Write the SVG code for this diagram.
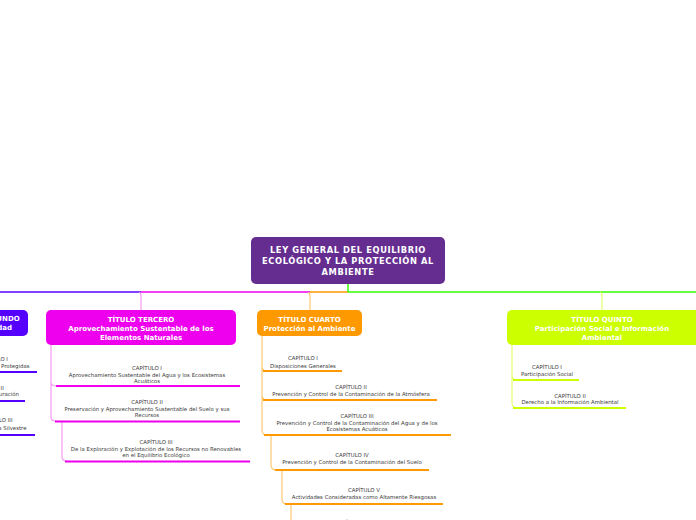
<svg xmlns="http://www.w3.org/2000/svg" width="696" height="520" viewBox="0 0 696 520">
<style>
.root{font-family:"DejaVu Sans",Verdana,sans-serif;font-weight:bold;font-size:8.3px;letter-spacing:0.6px;fill:#fff;text-anchor:middle}
.tt{font-family:"DejaVu Sans",Verdana,sans-serif;font-weight:bold;font-size:7px;fill:#fff;text-anchor:middle}
.ch{font-family:"DejaVu Sans",Verdana,sans-serif;font-size:5.4px;fill:#3a3a3a;text-anchor:middle}
.ul{stroke-width:2;fill:none}
.c{fill:none;stroke-width:1.2}
</style>
<rect width="696" height="520" fill="#fff"/>
<g id="connectors">
<line x1="0" y1="292" x2="141" y2="292" stroke="#5500ff" stroke-width="1.5"/>
<line x1="141" y1="292" x2="310" y2="292" stroke="#ee00ee" stroke-width="1.5"/>
<line x1="310" y1="292" x2="348" y2="292" stroke="#ff9900" stroke-width="1.5"/>
<line x1="348" y1="292" x2="696" y2="292" stroke="#33ff00" stroke-width="1.5"/>
<line x1="348" y1="284" x2="348" y2="292" stroke="#33ff00" stroke-width="1.5"/>
<path class="c" stroke="#f59af5" d="M139 292.5 Q141 292.5 141 296 L141 310"/>
<path class="c" stroke="#ffc870" d="M308 292.5 Q310 292.5 310 296 L310 310"/>
<path class="c" stroke="#e2ff70" d="M600 292.5 Q602 292.5 602 296 L602 310"/>
<path class="c" stroke="#f59af5" d="M51 345 L51 382 Q51 386 56 386 M51 382 L51 417 Q51 421 56 421"/>
<path class="c" stroke="#f59af5" d="M62 422 L62 457 Q62 461 67 461"/>
<path class="c" stroke="#ffc870" d="M262 336 L262 366 Q262 371 267 371 M262 366 L262 395 Q262 400 267 400 M262 395 L262 430 Q262 435 267 435"/>
<path class="c" stroke="#ffc870" d="M271 435 L271 465 Q271 470 276 470"/>
<path class="c" stroke="#ffc870" d="M282 470 L282 499 Q282 504 287 504"/>
<path class="c" stroke="#ffc870" d="M291 504 L291 520"/>
<path class="c" stroke="#e2ff70" d="M512 345 L512 375 Q512 380 517 380 M512 375 L512 403 Q512 408 517 408"/>
</g>
<g id="root">
<rect x="251" y="237" width="194" height="47" rx="5" fill="#662d91"/>
<text class="root" x="348" y="253">LEY GENERAL DEL EQUILIBRIO</text>
<text class="root" x="348" y="264">ECOLÓGICO Y LA PROTECCIÓN AL</text>
<text class="root" x="348" y="275">AMBIENTE</text>
</g>
<g id="titulo-segundo">
<rect x="-58" y="310" width="86" height="26" rx="5" fill="#5500ff"/>
<text class="tt" x="-15" y="321">TÍTULO SEGUNDO</text>
<text class="tt" x="-15" y="330">Biodiversidad</text>
</g>
<g id="ts-cap1">
<text class="ch" x="-7" y="361">CAPÍTULO I</text>
<text class="ch" x="-7" y="368">Áreas Naturales Protegidas</text>
<line class="ul" x1="-50" y1="372" x2="37" y2="372" stroke="#5500ff"/>
</g>
<g id="ts-cap2">
<text class="ch" x="-12" y="390">CAPÍTULO II</text>
<text class="ch" x="-12" y="396">Zonas de Restauración</text>
<line class="ul" x1="-50" y1="401" x2="25" y2="401" stroke="#5500ff"/>
</g>
<g id="ts-cap3">
<text class="ch" x="-4" y="422">CAPÍTULO III</text>
<text class="ch" x="-4" y="430">Flora y Fauna Silvestre</text>
<line class="ul" x1="-45" y1="435" x2="35" y2="435" stroke="#5500ff"/>
</g>
<g id="titulo-tercero">
<rect x="46" y="310" width="190" height="35" rx="5" fill="#ee00ee"/>
<text class="tt" x="141" y="321.5">TÍTULO TERCERO</text>
<text class="tt" x="141" y="330.5">Aprovechamiento Sustentable de los</text>
<text class="tt" x="141" y="339.5">Elementos Naturales</text>
</g>
<g id="tt-cap1">
<text class="ch" x="147" y="370">CAPÍTULO I</text>
<text class="ch" x="147" y="377">Aprovechamiento Sustentable del Agua y los Ecosistemas</text>
<text class="ch" x="147" y="383">Acuáticos</text>
<line class="ul" x1="56" y1="386" x2="240" y2="386" stroke="#ee00ee"/>
</g>
<g id="tt-cap2">
<text class="ch" x="147" y="404">CAPÍTULO II</text>
<text class="ch" x="147" y="411">Preservación y Aprovechamiento Sustentable del Suelo y sus</text>
<text class="ch" x="147" y="417">Recursos</text>
<line class="ul" x1="55" y1="421.5" x2="240" y2="421.5" stroke="#ee00ee"/>
</g>
<g id="tt-cap3">
<text class="ch" x="156" y="444">CAPÍTULO III</text>
<text class="ch" x="156" y="451">De la Exploración y Explotación de los Recursos no Renovables</text>
<text class="ch" x="156" y="457">en el Equilibrio Ecológico</text>
<line class="ul" x1="65" y1="461.5" x2="250" y2="461.5" stroke="#ee00ee"/>
</g>
<g id="titulo-cuarto">
<rect x="257" y="310" width="105" height="26" rx="5" fill="#ff9900"/>
<text class="tt" x="309.5" y="321.5">TÍTULO CUARTO</text>
<text class="tt" x="309.5" y="330.5">Protección al Ambiente</text>
</g>
<g id="tc-cap1">
<text class="ch" x="303" y="360">CAPÍTULO I</text>
<text class="ch" x="303" y="368">Disposiciones Generales</text>
<line class="ul" x1="263" y1="371" x2="342" y2="371" stroke="#ff9900"/>
</g>
<g id="tc-cap2">
<text class="ch" x="351" y="389">CAPÍTULO II</text>
<text class="ch" x="351" y="396">Prevención y Control de la Contaminación de la Atmósfera</text>
<line class="ul" x1="263" y1="400" x2="437" y2="400" stroke="#ff9900"/>
</g>
<g id="tc-cap3">
<text class="ch" x="357" y="418">CAPÍTULO III</text>
<text class="ch" x="357" y="425">Prevención y Control de la Contaminación del Agua y de los</text>
<text class="ch" x="357" y="431">Ecosistemas Acuáticos</text>
<line class="ul" x1="264" y1="435" x2="451" y2="435" stroke="#ff9900"/>
</g>
<g id="tc-cap4">
<text class="ch" x="352" y="457">CAPÍTULO IV</text>
<text class="ch" x="352" y="464">Prevención y Control de la Contaminación del Suelo</text>
<line class="ul" x1="275" y1="470" x2="429" y2="470" stroke="#ff9900"/>
</g>
<g id="tc-cap5">
<text class="ch" x="364" y="492">CAPÍTULO V</text>
<text class="ch" x="364" y="499">Actividades Consideradas como Altamente Riesgosas</text>
<line class="ul" x1="285" y1="504" x2="443" y2="504" stroke="#ff9900"/>
</g>
<g id="tc-cap6">
<text class="ch" x="352" y="524">CAPÍTULO VI</text>
</g>
<g id="titulo-quinto">
<rect x="507" y="310" width="195" height="35" rx="5" fill="#ccff00"/>
<text class="tt" x="602" y="322">TÍTULO QUINTO</text>
<text class="tt" x="602" y="330.5">Participación Social e Información</text>
<text class="tt" x="602" y="339.5">Ambiental</text>
</g>
<g id="tq-cap1">
<text class="ch" x="547" y="369">CAPÍTULO I</text>
<text class="ch" x="547" y="376">Participación Social</text>
<line class="ul" x1="513" y1="380" x2="579" y2="380" stroke="#ccff00"/>
</g>
<g id="tq-cap2">
<text class="ch" x="570" y="398">CAPÍTULO II</text>
<text class="ch" x="570" y="404">Derecho a la Información Ambiental</text>
<line class="ul" x1="513" y1="408" x2="626" y2="408" stroke="#ccff00"/>
</g>
</svg>
